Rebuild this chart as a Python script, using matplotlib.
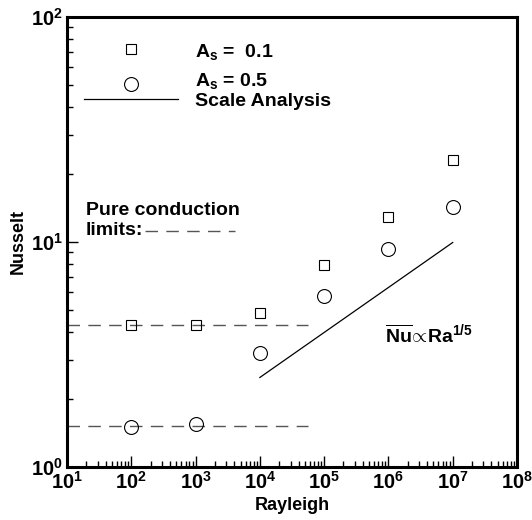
import matplotlib
matplotlib.use("Agg")
import matplotlib.pyplot as plt
import matplotlib.ticker as ticker
import numpy as np

# values
rayleigh = [1e2, 1e3, 1e4, 1e5, 1e6, 1e7]
nusselt_a01 = [4.28, 4.28, 4.85, 7.9, 12.9, 23.1]
nusselt_a05 = [1.51, 1.55, 3.22, 5.75, 9.3, 14.3]

scale_ra = [1e4, 1e7]
scale_nu = [2.5, 9.95]

conduction_ra = [10, 5.6e4]
conduction_a01 = [4.28, 4.28]
conduction_a05 = [1.52, 1.52]

x_label = "Rayleigh"
y_label = "Nusselt"

plt.rcParams["font.family"] = ["Liberation Sans", "DejaVu Sans"]
plt.rcParams["font.weight"] = "bold"
plt.rcParams["mathtext.fontset"] = "custom"
plt.rcParams["mathtext.rm"] = "Liberation Sans:bold"
plt.rcParams["mathtext.it"] = "Liberation Sans:bold"
plt.rcParams["mathtext.bf"] = "Liberation Sans:bold"

dash_gray = "#555555"

fig = plt.figure(figsize=(5.32, 5.20), dpi=100)
ax = fig.add_axes([67 / 532, 53 / 520, 450 / 532, 450 / 520])

# pure conduction limits
ax.plot(conduction_ra, conduction_a01, color=dash_gray, lw=1.0, dashes=(9, 6))
ax.plot(conduction_ra, conduction_a05, color=dash_gray, lw=1.0, dashes=(9, 6))

ax.plot(scale_ra, scale_nu, color="black", lw=0.9)
ax.plot(rayleigh, nusselt_a01, ls="none", marker="s", ms=7, mfc="none",
        mec="black", mew=0.8)
ax.plot(rayleigh, nusselt_a05, ls="none", marker="o", ms=10, mfc="none",
        mec="black", mew=0.8)

ax.set_xscale("log")
ax.set_yscale("log")
ax.set_xlim(10, 1e8)
ax.set_ylim(1, 100)

for axis in (ax.xaxis, ax.yaxis):
    axis.set_major_locator(ticker.LogLocator(base=10, numticks=20))
    axis.set_minor_locator(ticker.LogLocator(base=10, subs=np.arange(2, 10), numticks=20))
    axis.set_minor_formatter(ticker.NullFormatter())

ax.tick_params(which="both", direction="in", top=False, right=False,
               labelsize=14.5, width=1.0, pad=3)
ax.tick_params(which="major", length=8)
ax.tick_params(which="minor", length=4)
for spine in ax.spines.values():
    spine.set_linewidth(2.2)

ax.set_xlabel(x_label, fontsize=13, fontweight="bold", labelpad=3)
ax.set_ylabel(y_label, fontsize=13, fontweight="bold", labelpad=3)

# legend, drawn by hand as in the original
tr = ax.transAxes
ax.plot([0.142], [0.929], transform=tr, marker="s", ms=7, mfc="none",
        mec="black", mew=0.8, clip_on=False)
ax.plot([0.142], [0.851], transform=tr, marker="o", ms=10, mfc="none",
        mec="black", mew=0.8, clip_on=False)
ax.plot([0.038, 0.247], [0.818, 0.818], transform=tr, color="black", lw=0.9)
ax.text(0.284, 0.911, r"A$_{\rm s}$ =  0.1", transform=tr, fontsize=14, va="baseline")
ax.text(0.284, 0.847, r"A$_{\rm s}$ = 0.5", transform=tr, fontsize=14, va="baseline")
ax.text(0.284, 0.802, "Scale Analysis", transform=tr, fontsize=14, va="baseline")

ax.text(0.042, 0.560, "Pure conduction", transform=tr, fontsize=14, va="baseline")
ax.text(0.042, 0.516, "limits:", transform=tr, fontsize=14, va="baseline")
ax.plot([0.173, 0.373], [0.524, 0.524], transform=tr, color=dash_gray, lw=1.0,
        dashes=(9, 6))

ax.text(0.707, 0.276, r"$\overline{\rm Nu}\!\propto\!{\rm Ra}^{1/5}$", transform=tr,
        fontsize=14, va="baseline")

plt.savefig("out.png", dpi=100)
